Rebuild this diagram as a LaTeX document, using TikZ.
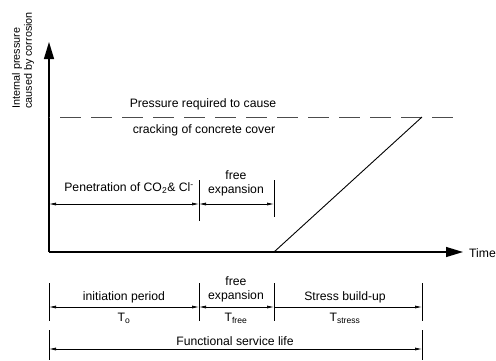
\documentclass[tikz,border=0pt]{standalone}
\usepackage{fontspec}
\setmainfont{Liberation Sans}
\usetikzlibrary{arrows.meta}
\begin{document}
\begin{tikzpicture}[x=1pt,y=-1pt,
  txt/.style={inner sep=0pt,font=\fontsize{12.2}{14}\selectfont},
  axis/.style={line width=1.2pt,-{Triangle[length=17pt,width=10pt]}},
  thin/.style={line width=0.7pt},
  dim/.style={line width=0.7pt,{Latex[length=7pt,width=3pt]}-{Latex[length=7pt,width=3pt]}},
  dimr/.style={line width=0.7pt,-{Latex[length=7pt,width=3pt]}}]
\useasboundingbox (0,0) rectangle (496,360);
% axes
\coordinate (O) at (49,252);
\coordinate (Ytop) at (49,42);
\coordinate (Xend) at (463,252);
\draw[axis] (O) -- (Ytop);
\draw[axis] (O) -- (Xend);
\node[txt,anchor=west] (time) at (469,253) {Time};
% y label
\node[txt,rotate=90,anchor=west,font=\fontsize{10.8}{12}\selectfont] (yl1) at (17,109) {Internal pressure};
\node[txt,rotate=90,anchor=west,font=\fontsize{10.8}{12}\selectfont] (yl2) at (29,109) {caused by corrosion};
% dashed threshold
\coordinate (D1) at (49,117);
\coordinate (D2) at (462,117);
\draw[line width=1pt,black!70,dash pattern=on 21pt off 10pt,dash phase=-11pt] (D1) -- (D2);
\node[txt] (p1) at (203,104) {Pressure required to cause};
\node[txt] (p2) at (204,130) {cracking of concrete cover};
% pressure line
\coordinate (S0) at (274,252);
\coordinate (S1) at (422,117);
\draw[line width=0.9pt] (S0) -- (S1);
% upper dimension
\coordinate (u0) at (49,204);
\coordinate (u1) at (199,204);
\coordinate (u2) at (274,204);
\coordinate (u1t) at (199,180); \coordinate (u1b) at (199,221);
\coordinate (u2t) at (274,180); \coordinate (u2b) at (274,217);
\draw[thin] (u1t) -- (u1b);
\draw[thin] (u2t) -- (u2b);
\draw[dim] (u0) -- (u1);
\draw[dim] (u1) -- (u2);
\node[txt] (pen) at (129,188) {Penetration of CO\textsubscript{2}\& Cl\textsuperscript{-}};
\node[txt] (fe1) at (236,175) {free};
\node[txt] (fe2) at (236,190) {expansion};
% lower dimension
\foreach \x/\n in {49/a,199/b,274/c,422/d}{
  \coordinate (l\n t) at (\x,283);
  \coordinate (l\n b) at (\x,321);
  \coordinate (l\n) at (\x,307);
  \draw[thin] (l\n t) -- (l\n b);
}
\draw[dim] (la) -- (lb);
\draw[dim] (lb) -- (lc);
\draw[dimr] (lc) -- (ld);
\node[txt] (ip) at (124,297) {initiation period};
\node[txt] (to) at (124,318) {T\textsubscript{o}};
\node[txt] (fe3) at (236,281) {free};
\node[txt] (fe4) at (236,296) {expansion};
\node[txt] (tf) at (236,318) {T\textsubscript{free}};
\node[txt] (sb) at (345,297) {Stress build-up};
\node[txt] (ts) at (345,318) {T\textsubscript{stress}};
% functional service life
\coordinate (fa) at (49,349); \coordinate (fd) at (422,349);
\coordinate (fat) at (49,330); \coordinate (fab) at (49,360);
\coordinate (fdt) at (422,330); \coordinate (fdb) at (422,360);
\draw[thin] (fat) -- (fab);
\draw[thin] (fdt) -- (fdb);
\draw[dim] (fa) -- (fd);
\node[txt] (fsl) at (235,341) {Functional service life};
\end{tikzpicture}
\end{document}
